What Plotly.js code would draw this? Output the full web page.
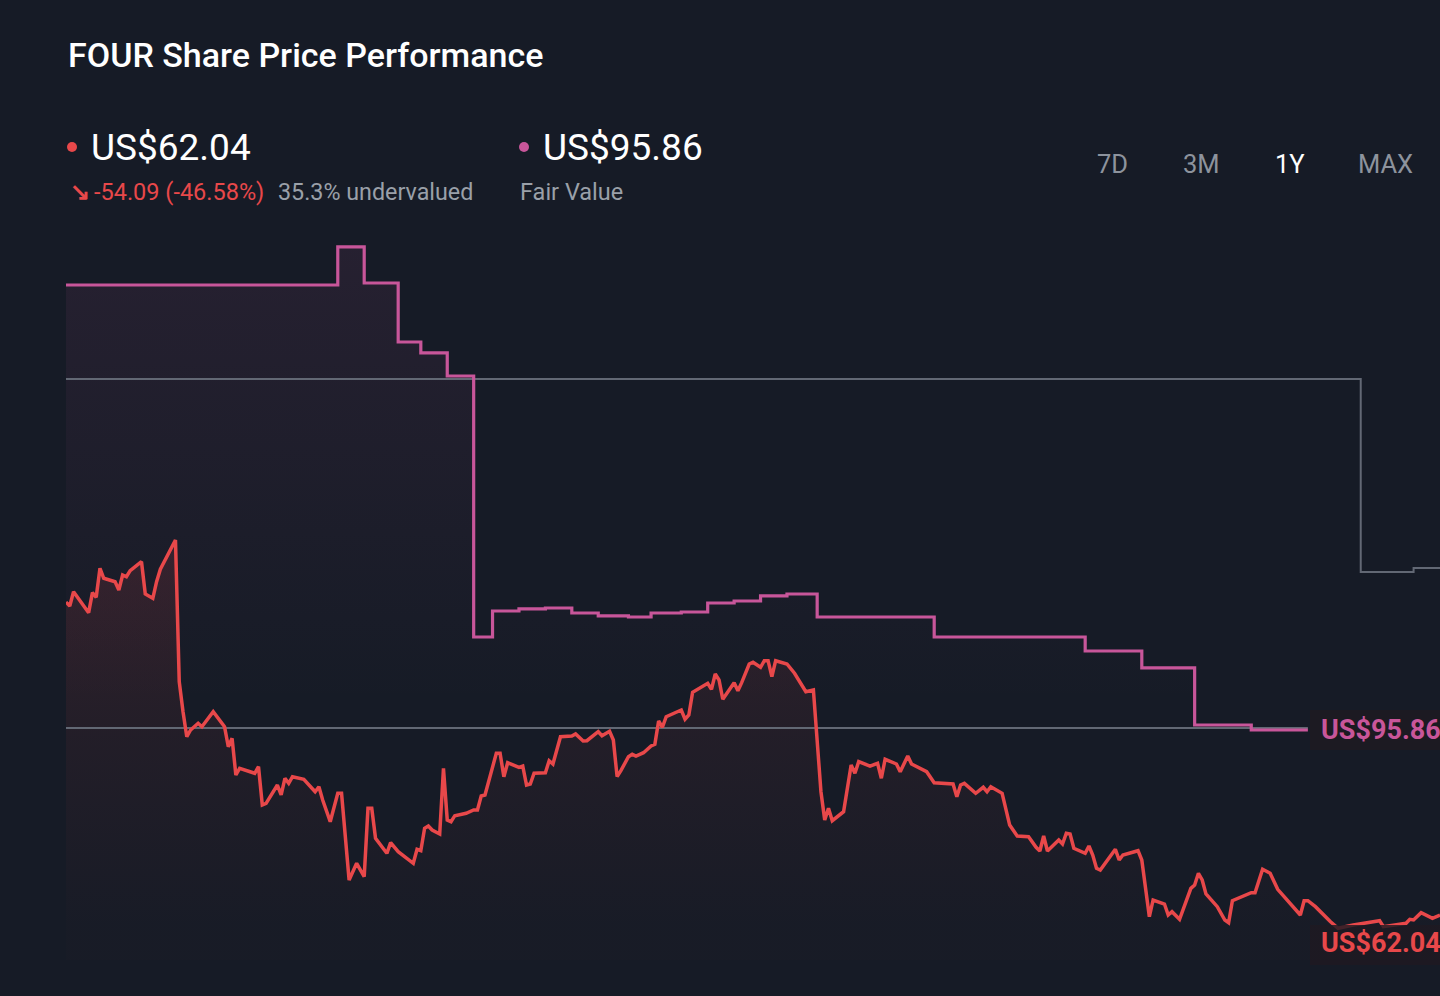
<!DOCTYPE html>
<html>
<head>
<meta charset="utf-8">
<script src="https://cdn.plot.ly/plotly-3.0.1.min.js"></script>
<style>
  html, body { margin: 0; padding: 0; background: #161b26; overflow: hidden; }
  #chart { width: 1500px; height: 996px; }
</style>
</head>
<body>
<div id="chart"></div>
<script>
// ---- Data ----
const priceDates = [
 '2024-11-14','2024-11-15','2024-11-16','2024-11-20','2024-11-21','2024-11-22','2024-11-23','2024-11-24','2024-11-27','2024-11-28',
 '2024-11-29','2024-11-30','2024-12-01','2024-12-04','2024-12-05','2024-12-07','2024-12-08','2024-12-09','2024-12-13','2024-12-14',
 '2024-12-15','2024-12-16','2024-12-17','2024-12-19','2024-12-20','2024-12-23','2024-12-26','2024-12-27','2024-12-28','2024-12-29',
 '2024-12-30','2025-01-03','2025-01-04','2025-01-05','2025-01-06','2025-01-09','2025-01-10','2025-01-11','2025-01-12','2025-01-13',
 '2025-01-16','2025-01-18','2025-01-19','2025-01-20','2025-01-21','2025-01-23','2025-01-25','2025-01-26','2025-01-27','2025-01-28',
 '2025-01-30','2025-02-01','2025-02-02','2025-02-03','2025-02-04','2025-02-07','2025-02-08','2025-02-10','2025-02-14','2025-02-15',
 '2025-02-16','2025-02-17','2025-02-18','2025-02-19','2025-02-21','2025-02-22','2025-02-23','2025-02-24','2025-02-25','2025-02-28',
 '2025-03-02','2025-03-03','2025-03-04','2025-03-05','2025-03-08','2025-03-09','2025-03-10','2025-03-11','2025-03-14','2025-03-15',
 '2025-03-16','2025-03-17','2025-03-18','2025-03-21','2025-03-22','2025-03-23','2025-03-25','2025-03-28','2025-03-29','2025-03-31',
 '2025-04-01','2025-04-04','2025-04-05','2025-04-07','2025-04-08','2025-04-09','2025-04-10','2025-04-12','2025-04-13','2025-04-14',
 '2025-04-16','2025-04-18','2025-04-19','2025-04-20','2025-04-21','2025-04-22','2025-04-26','2025-04-27','2025-04-28','2025-04-29',
 '2025-05-03','2025-05-04','2025-05-05','2025-05-06','2025-05-07','2025-05-10','2025-05-11','2025-05-12','2025-05-14','2025-05-15',
 '2025-05-17','2025-05-18','2025-05-19','2025-05-20','2025-05-21','2025-05-24','2025-05-26','2025-05-27','2025-05-29','2025-05-31',
 '2025-06-01','2025-06-02','2025-06-03','2025-06-04','2025-06-05','2025-06-08','2025-06-10','2025-06-11','2025-06-12','2025-06-15',
 '2025-06-17','2025-06-18','2025-06-19','2025-06-22','2025-06-23','2025-06-25','2025-06-26','2025-06-30','2025-07-02','2025-07-07',
 '2025-07-08','2025-07-09','2025-07-10','2025-07-13','2025-07-15','2025-07-16','2025-07-17','2025-07-20','2025-07-22','2025-07-24',
 '2025-07-27','2025-07-29','2025-07-30','2025-07-31','2025-08-01','2025-08-04','2025-08-05','2025-08-06','2025-08-07','2025-08-08',
 '2025-08-11','2025-08-12','2025-08-13','2025-08-14','2025-08-15','2025-08-19','2025-08-20','2025-08-21','2025-08-25','2025-08-26',
 '2025-08-28','2025-08-29','2025-09-01','2025-09-02','2025-09-03','2025-09-05','2025-09-08','2025-09-09','2025-09-10','2025-09-11',
 '2025-09-12','2025-09-15','2025-09-17','2025-09-18','2025-09-19','2025-09-23','2025-09-24','2025-09-25','2025-09-27','2025-09-29',
 '2025-10-01','2025-10-07','2025-10-08','2025-10-09','2025-10-11','2025-10-15','2025-10-17','2025-10-21','2025-10-28','2025-10-29',
 '2025-11-04','2025-11-05','2025-11-06','2025-11-08','2025-11-11','2025-11-13'
];
const priceValues = [
 116.13,115.51,117.78,114.45,117.62,116.89,121.49,119.90,119.36,118.05,
 120.42,120.15,121.11,122.53,117.41,116.73,119.36,121.33,125.97,103.51,
 98.76,94.80,95.86,96.92,96.38,98.76,96.38,93.21,94.54,88.73,
 89.79,89.00,90.04,83.97,84.24,87.14,85.56,88.21,87.41,88.46,
 88.05,86.62,86.08,86.87,84.77,81.33,85.83,85.83,78.95,72.09,
 74.73,72.61,83.45,83.45,78.70,76.32,78.00,76.57,74.73,76.95,
 76.73,80.28,80.65,80.01,79.38,89.79,81.60,81.33,82.28,82.66,
 83.18,83.18,85.40,85.56,92.17,92.17,88.46,90.68,89.95,90.15,
 87.14,87.30,89.00,89.09,90.99,90.47,94.80,94.91,95.23,94.12,
 94.16,95.59,94.96,95.65,94.28,88.46,89.41,91.63,92.01,91.74,
 92.26,93.32,93.59,97.29,96.29,97.97,99.03,97.56,98.24,101.83,
 103.26,102.31,104.73,103.78,100.73,103.36,102.09,103.36,106.32,106.59,
 105.80,106.84,106.84,104.31,106.84,106.32,104.85,103.89,101.93,102.20,
 94.28,86.08,81.60,83.45,81.49,82.91,90.31,89.00,90.84,90.15,
 90.58,88.21,91.22,90.47,89.25,91.74,90.47,89.25,87.51,87.30,
 85.29,87.14,87.41,85.83,86.78,86.08,86.87,85.83,80.80,79.06,
 78.95,77.27,76.68,79.06,76.68,78.43,77.79,79.49,79.38,77.11,
 76.32,77.48,76.05,73.94,73.67,76.95,75.26,76.05,76.73,75.26,
 66.27,68.92,68.28,66.54,67.06,65.86,70.77,71.30,73.15,72.09,
 69.87,67.86,65.75,65.32,68.81,69.71,70.08,70.08,73.78,73.15,
 70.61,66.54,68.81,68.81,67.86,65.48,64.43,64.96,65.64,64.69,
 65.23,65.86,65.75,66.91,66.02,66.54
];

const fairDates = [
 '2024-11-14','2025-01-25','2025-02-01','2025-02-10','2025-02-16','2025-02-23','2025-03-02','2025-03-07','2025-03-14','2025-03-21',
 '2025-03-28','2025-04-04','2025-04-12','2025-04-18','2025-04-26','2025-05-03','2025-05-10','2025-05-17','2025-05-24','2025-06-01',
 '2025-07-02','2025-08-11','2025-08-26','2025-09-09','2025-09-24','2025-10-09'
];
const fairValues = [
 166.38,172.41,166.70,157.35,155.61,151.96,110.60,114.72,115.04,115.19,
 114.40,113.93,113.77,114.40,114.56,115.99,116.30,117.10,117.41,113.77,
 110.60,108.38,105.69,96.65,95.86,95.86
];

const otherDates = ['2024-11-14','2025-10-23','2025-11-06','2025-11-13'];
const otherValues = [151.49,120.90,121.53,121.53];

const levelDates = ['2024-11-14','2025-10-09'];
const levelValues = [96.18,96.18];

const lastPrice = 62.04;
const fairValue = 95.86;
const headerTexts = {
  title: 'FOUR Share Price Performance',
  price: 'US$62.04',
  arrow: '↘',
  change: '-54.09 (-46.58%)',
  under: '35.3% undervalued',
  fair: 'US$95.86',
  fairLabel: 'Fair Value'
};
const rangeButtons = ['7D','3M','1Y','MAX'];
const activeButton = '1Y';

// ---- Styling ----
const RED = '#e8484a';
const PINK = '#c8569a';
const GRAY = '#626874';
const BG = '#161b26';
const FONT = 'Roboto, "Noto Sans", sans-serif';

// pixel helpers for paper-positioned text (plot spans x 66..1440, y 100..960)
const px = x => (x - 66) / 1374;
const py = y => (960 - y) / 860;

const traces = [
  { // fair value fill
    x: fairDates, y: fairValues, type: 'scatter', mode: 'lines',
    line: { shape: 'hv', width: 0, color: 'rgba(0,0,0,0)' },
    fill: 'tozeroy',
    fillgradient: { type: 'vertical', start: 100, stop: 172,
      colorscale: [[0, 'rgba(200,86,154,0)'], [1, 'rgba(200,86,154,0.09)']] },
    hoverinfo: 'skip'
  },
  { // price fill
    x: priceDates, y: priceValues, type: 'scatter', mode: 'lines',
    line: { width: 0, color: 'rgba(0,0,0,0)' },
    fill: 'tozeroy',
    fillgradient: { type: 'vertical', start: 65, stop: 124,
      colorscale: [[0, 'rgba(232,72,74,0.01)'], [0.5, 'rgba(232,72,74,0.06)'], [1, 'rgba(232,72,74,0.13)']] },
    hoverinfo: 'skip'
  },
  { x: levelDates, y: levelValues, type: 'scatter', mode: 'lines',
    line: { color: GRAY, width: 2 }, hoverinfo: 'skip' },
  { x: otherDates, y: otherValues, type: 'scatter', mode: 'lines',
    line: { color: GRAY, width: 2, shape: 'hv' }, hoverinfo: 'skip' },
  { x: fairDates, y: fairValues, type: 'scatter', mode: 'lines',
    line: { color: PINK, width: 3.2, shape: 'hv' }, hoverinfo: 'skip' },
  { x: priceDates, y: priceValues, type: 'scatter', mode: 'lines',
    line: { color: RED, width: 3.5, shape: 'linear' }, hoverinfo: 'skip' }
];

const annotations = [
  { text: headerTexts.title, x: px(66), y: py(55), font: { size: 34, color: '#ffffff', weight: 500 } },
  { text: headerTexts.price, x: px(89), y: py(147), font: { size: 37, color: '#ffffff' } },
  { text: '<b>' + headerTexts.arrow + '</b>', x: px(68), y: py(192), font: { size: 24, color: RED } },
  { text: headerTexts.change, x: px(92), y: py(192), font: { size: 23.5, color: RED } },
  { text: headerTexts.under, x: px(276), y: py(192), font: { size: 23.3, color: '#9aa0a9' } },
  { text: headerTexts.fair, x: px(541), y: py(147), font: { size: 37, color: '#ffffff' } },
  { text: headerTexts.fairLabel, x: px(518), y: py(192), font: { size: 23.5, color: '#9aa0a9' } }
];
const btnX = [1095, 1181, 1273, 1356];
rangeButtons.forEach((b, i) => {
  annotations.push({ text: b, x: px(btnX[i]), y: py(164),
    font: { size: 25.5, color: b === activeButton ? '#ffffff' : '#8d939d' } });
});
annotations.push({ text: '<b>' + headerTexts.fair + '</b>', x: px(1319), yref: 'y', y: fairValue,
  font: { size: 27, color: PINK } });
annotations.push({ text: '<b>' + headerTexts.price + '</b>', x: px(1319), yref: 'y', y: lastPrice,
  font: { size: 27, color: RED } });
annotations.forEach(a => {
  a.xref = 'paper'; if (!a.yref) a.yref = 'paper';
  if (!a.xanchor) a.xanchor = 'left';
  a.yanchor = 'middle'; a.showarrow = false;
  a.font.family = FONT;
});

const shapes = [
  { type: 'circle', xref: 'paper', yref: 'paper', x0: px(67), x1: px(77), y0: py(152), y1: py(142),
    fillcolor: RED, line: { width: 0 }, layer: 'above' },
  { type: 'circle', xref: 'paper', yref: 'paper', x0: px(519), x1: px(529), y0: py(152), y1: py(142),
    fillcolor: PINK, line: { width: 0 }, layer: 'above' },
  { type: 'rect', xref: 'paper', yref: 'paper', x0: px(1310), x1: px(1520), y0: py(750), y1: py(710),
    fillcolor: 'rgba(30,26,34,0.88)', line: { width: 0 }, layer: 'above' },
  { type: 'rect', xref: 'paper', yref: 'paper', x0: px(1310), x1: px(1520), y0: py(965), y1: py(925),
    fillcolor: 'rgba(30,26,34,0.82)', line: { width: 0 }, layer: 'above' }
];

const layout = {
  width: 1500, height: 996,
  paper_bgcolor: BG, plot_bgcolor: 'rgba(0,0,0,0)',
  margin: { l: 66, r: 60, t: 100, b: 36 },
  showlegend: false,
  xaxis: { type: 'date', range: ['2024-11-14', '2025-11-13'], visible: false, fixedrange: true },
  yaxis: { range: [59.41, 195.70], visible: false, fixedrange: true },
  annotations: annotations,
  shapes: shapes,
  font: { family: FONT }
};

Plotly.newPlot('chart', traces, layout, { staticPlot: true, displayModeBar: false });
</script>
</body>
</html>
